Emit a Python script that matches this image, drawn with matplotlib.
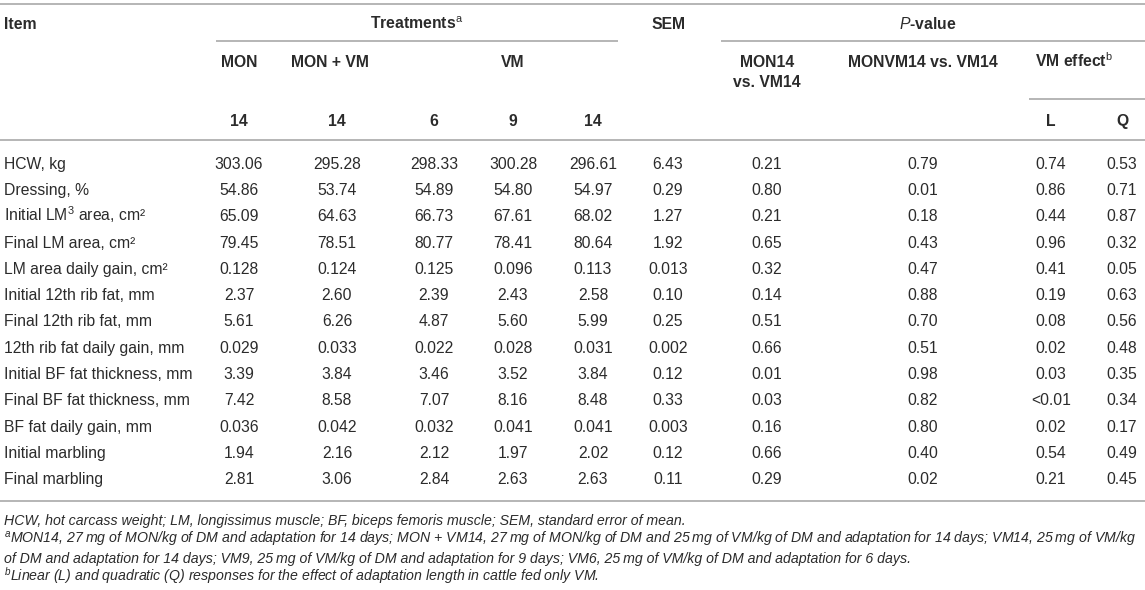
import matplotlib
matplotlib.use("Agg")
import matplotlib.pyplot as plt
from matplotlib import font_manager

# table contents
items = ["HCW, kg", "Dressing, %", r"Initial LM$^{\mathrm{3}}$ area, cm" + "\u00b2", "Final LM area, cm\u00b2",
         "LM area daily gain, cm\u00b2", "Initial 12th rib fat, mm", "Final 12th rib fat, mm",
         "12th rib fat daily gain, mm", "Initial BF fat thickness, mm", "Final BF fat thickness, mm",
         "BF fat daily gain, mm", "Initial marbling", "Final marbling"]
mon14 = ["303.06", "54.86", "65.09", "79.45", "0.128", "2.37", "5.61", "0.029", "3.39", "7.42", "0.036", "1.94", "2.81"]
monvm14 = ["295.28", "53.74", "64.63", "78.51", "0.124", "2.60", "6.26", "0.033", "3.84", "8.58", "0.042", "2.16", "3.06"]
vm6 = ["298.33", "54.89", "66.73", "80.77", "0.125", "2.39", "4.87", "0.022", "3.46", "7.07", "0.032", "2.12", "2.84"]
vm9 = ["300.28", "54.80", "67.61", "78.41", "0.096", "2.43", "5.60", "0.028", "3.52", "8.16", "0.041", "1.97", "2.63"]
vm14 = ["296.61", "54.97", "68.02", "80.64", "0.113", "2.58", "5.99", "0.031", "3.84", "8.48", "0.041", "2.02", "2.63"]
sem = ["6.43", "0.29", "1.27", "1.92", "0.013", "0.10", "0.25", "0.002", "0.12", "0.33", "0.003", "0.12", "0.11"]
p_mon_vm = ["0.21", "0.80", "0.21", "0.65", "0.32", "0.14", "0.51", "0.66", "0.01", "0.03", "0.16", "0.66", "0.29"]
p_monvm_vm = ["0.79", "0.01", "0.18", "0.43", "0.47", "0.88", "0.70", "0.51", "0.98", "0.82", "0.80", "0.40", "0.02"]
p_lin = ["0.74", "0.86", "0.44", "0.96", "0.41", "0.19", "0.08", "0.02", "0.03", "<0.01", "0.02", "0.54", "0.21"]
p_quad = ["0.53", "0.71", "0.87", "0.32", "0.05", "0.63", "0.56", "0.48", "0.35", "0.34", "0.17", "0.49", "0.45"]
days = ["14", "14", "6", "9", "14"]

notes = [
    "HCW, hot carcass weight; LM, longissimus muscle; BF, biceps femoris muscle; SEM, standard error of mean.",
    "$^{a}$MON14, 27\u2009mg of MON/kg of DM and adaptation for 14 days; MON + VM14, 27\u2009mg of MON/kg of DM and 25\u2009mg of VM/kg of DM and adaptation for 14 days; VM14, 25\u2009mg of VM/kg",
    "of DM and adaptation for 14 days; VM9, 25\u2009mg of VM/kg of DM and adaptation for 9 days; VM6, 25\u2009mg of VM/kg of DM and adaptation for 6 days.",
    "$^{b}$Linear (L) and quadratic (Q) responses for the effect of adaptation length in cattle fed only VM.",
]

names = {f.name for f in font_manager.fontManager.ttflist}
note_font = "Liberation Sans Narrow" if "Liberation Sans Narrow" in names else "Liberation Sans"

plt.rcParams["font.family"] = ["Liberation Sans", "DejaVu Sans"]
plt.rcParams["mathtext.fontset"] = "custom"
plt.rcParams["mathtext.rm"] = "Liberation Sans"
plt.rcParams["mathtext.it"] = note_font + ":italic"
plt.rcParams["mathtext.bf"] = "Liberation Sans:bold"

W, H = 1145, 590
fig = plt.figure(figsize=(W / 100, H / 100), dpi=100)
ax = fig.add_axes([0, 0, 1, 1])
ax.set_xlim(0, W)
ax.set_ylim(H, 0)
ax.axis("off")

txt = "#2b2b2b"
rule = "#b5b5b5"
fs = 11.3
bl = 5.6  # baseline offset below the row centre

cols = [239, 337, 434, 513, 593, 668, 767, 923, 1051, 1122]


def hline(y, x0=0, x1=W):
    ax.plot([x0, x1], [y, y], color=rule, lw=1.4, solid_capstyle="butt")


def head(x, y, s, ha="center"):
    ax.text(x, y + bl, s, fontsize=fs, fontweight="bold", color=txt, va="baseline", ha=ha)


# header
hline(4)
head(4, 23, "Item", ha="left")
head(417, 23, r"Treatments$^{\mathrm{a}}$")
head(cols[5], 23, "SEM")
head(928, 23, r"$\mathbf{\mathit{P}}$-value")
hline(41, 216, 618)
hline(41, 721, W)

head(cols[0], 61, "MON")
head(330, 61, "MON + VM")
head(cols[3], 61, "VM")
head(cols[6], 61, "MON14")
head(cols[6], 81, "vs. VM14")
head(cols[7], 61, "MONVM14 vs. VM14")
head(1074, 61, r"VM effect$^{\mathrm{b}}$")
hline(99, 1029, W)

for x, d in zip(cols[:5], days):
    head(x, 120, d)
head(cols[8], 120, "L")
head(cols[9], 120, "Q")
hline(140)

# body
series = [mon14, monvm14, vm6, vm9, vm14, sem, p_mon_vm, p_monvm_vm, p_lin, p_quad]
for i, name in enumerate(items):
    y = 163 + 26.3 * i + bl
    ax.text(4, y, name, fontsize=fs, color=txt, va="baseline")
    for x, s in zip(cols, series):
        ax.text(x, y, s[i], fontsize=fs, color=txt, va="baseline", ha="center")
hline(501)

# footnotes, sized so the long line fills the width
r = fig.canvas.get_renderer()
probe = ax.text(4, 0, notes[1], fontsize=10, family=note_font, style="italic")
wpx = probe.get_window_extent(renderer=r).width
probe.remove()
nfs = 10 * 1136 / wpx
for y, line in zip([520, 539, 558, 576], notes):
    ax.text(4, y + 4.5, line, fontsize=nfs, family=note_font, style="italic", color=txt, va="baseline")

fig.savefig("out.png", dpi=100)
